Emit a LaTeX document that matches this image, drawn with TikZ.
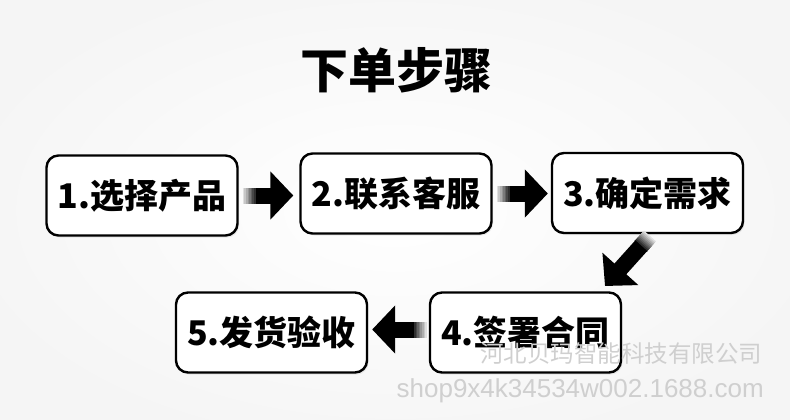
\documentclass[tikz,border=0pt]{standalone}
\usepackage{fontspec}
\newfontfamily\cjk{Noto Sans CJK SC}
\setsansfont{Liberation Sans}
\usetikzlibrary{arrows.meta,shadows,calc}
\newcommand\fadearrow[2]{%
  \foreach \qi [evaluate=\qi as \qa using \qi*1.6,
                evaluate=\qi as \qc using int(12+\qi*10)] in {0,...,7}{
    \draw[line width=16pt,black!\qc] ($(#1)!\qa pt!(#2)$) -- ($(#1)!14pt!(#2)$);
  }
  \draw[blockarrow] ($(#1)!13pt!(#2)$) -- (#2);
}
\begin{document}
\begin{tikzpicture}[x=1pt,y=-1pt,
  stepbox/.style={draw=black,line width=2.4pt,rounded corners=12pt,fill=white,
    minimum width=191pt,minimum height=80pt,inner sep=0pt,
    font=\cjk\bfseries\fontsize{34}{34}\selectfont,
    drop shadow={shadow xshift=1.5pt,shadow yshift=-2pt,opacity=0.15}},
  blockarrow/.style={line width=16pt,black,-{Triangle[length=23pt,width=47pt]}},
  wmark/.style={text=black!19,inner sep=0pt}
]
\useasboundingbox (0,0) rectangle (790,420);
\shade[inner color=white,outer color=black!4] (-60,-40) rectangle (850,460);
\node[font=\cjk\bfseries\fontsize{48}{48}\selectfont] (title) at (396,70) {下单步骤};
\node[stepbox] (b1) at (142,195.5) {1.选择产品};
\node[stepbox] (b2) at (396,193.5) {2.联系客服};
\node[stepbox] (b3) at (647.5,193) {3.确定需求};
\node[stepbox] (b4) at (525.5,332.5) {4.签署合同};
\node[stepbox] (b5) at (271.5,332.5) {5.发货验收};
\coordinate (a1s) at ([xshift=4pt]b1.east);
\coordinate (a1e) at ([xshift=-6pt]b1.east -| b2.west);
\coordinate (a2s) at ([xshift=4pt]b2.east);
\coordinate (a2e) at ([xshift=-3pt]b2.east -| b3.west);
\coordinate (d1) at (650,236);
\coordinate (d2) at (605,286);
\coordinate (a4s) at ([xshift=-2pt,yshift=3pt]b4.west);
\coordinate (a4e) at ([xshift=4pt,yshift=3pt]b5.east);
\fadearrow{a1s}{a1e}
\fadearrow{a2s}{a2e}
\fadearrow{d1}{d2}
\fadearrow{a4s}{a4e}
\node[wmark,font=\cjk\fontsize{23.5}{23.5}\selectfont] (wm1) at (621,354) {河北贝玛智能科技有限公司};
\node[wmark,font=\sffamily\fontsize{26}{26}\selectfont,anchor=base east] (wm2) at (764,397) {shop9x4k34534w002.1688.com};
\end{tikzpicture}
\end{document}
